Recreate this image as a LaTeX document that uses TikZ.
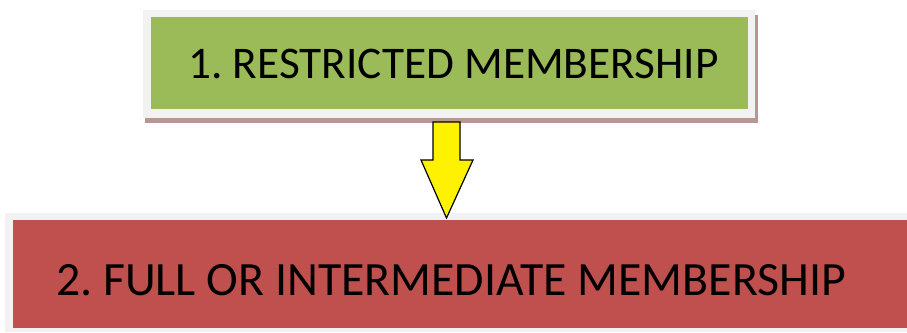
\documentclass[tikz,border=0pt]{standalone}
\usepackage{fontspec}
\setmainfont{Carlito}
\frenchspacing
\definecolor{boxgreen}{HTML}{9BBB59}
\definecolor{boxred}{HTML}{C0504D}
\definecolor{framegray}{HTML}{F2F2F2}
\definecolor{shadowred}{HTML}{B99594}
\tikzset{
  stagebox/.style={inner sep=0pt, outer sep=0pt},
  stagetext/.style={anchor=base, inner sep=0pt, text=black}
}
\begin{document}
\begin{tikzpicture}[x=1pt,y=-1pt]
  \useasboundingbox (0,0) rectangle (907,332);
  % first stage
  \fill[shadowred] (145,15) rectangle (758,123);
  \fill[framegray] (143,10) rectangle (755,118);
  \node[stagebox, fill=boxgreen, minimum width=597pt, minimum height=92pt]
    (restricted) at (449.5,63) {};
  \node[stagetext, font=\fontsize{45.3}{50}\selectfont] (restrictedtext)
    at (453.5,78) {1. RESTRICTED MEMBERSHIP};
  % second stage
  \fill[framegray] (5,213) rectangle (907,332);
  \node[stagebox, fill=boxred, minimum width=894pt, minimum height=108pt]
    (full) at (460,274) {};
  \node[stagetext, font=\fontsize{47.8}{54}\selectfont] (fulltext)
    at (451,295) {2. FULL OR INTERMEDIATE MEMBERSHIP};
  % block arrow
  \draw[fill=yellow, line width=1.2pt, line join=miter] (433,122) -- (460,122) -- (460,160)
    -- (473,160) -- (446.5,218) -- (421,160) -- (433,160) -- cycle;
\end{tikzpicture}
\end{document}
